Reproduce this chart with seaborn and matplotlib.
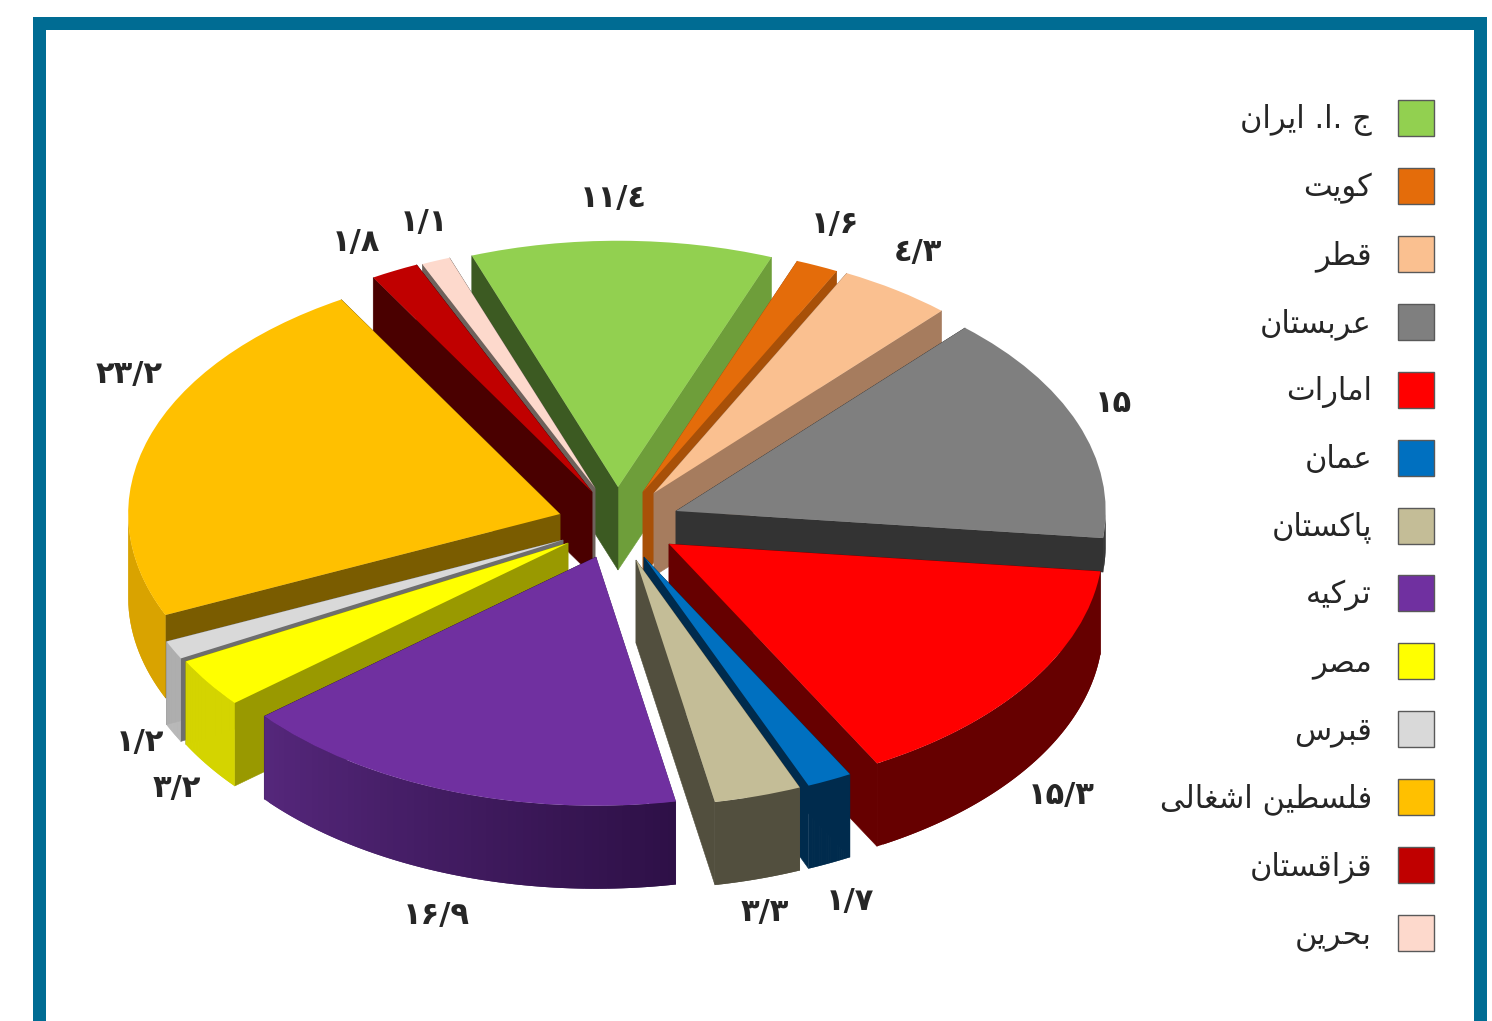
import numpy as np
import seaborn as sns
import matplotlib
matplotlib.use("Agg")
import matplotlib.pyplot as plt
from matplotlib.colors import to_rgb
from matplotlib.patches import Patch, Polygon, Rectangle

# Data, clockwise from the green slice
countries = ["ج .ا. ایران", "کویت", "قطر", "عربستان", "امارات", "عمان", "پاکستان",
             "ترکیه", "مصر", "قبرس", "فلسطین اشغالی", "قزاقستان", "بحرین"]
shares = [11.4, 1.6, 4.3, 15, 15.3, 1.7, 3.3, 16.9, 3.2, 1.2, 23.2, 1.8, 1.1]

top_colors = ["#92D050", "#E46C0A", "#FAC090", "#7F7F7F", "#FF0000", "#0070C0", "#C4BD97",
              "#7030A0", "#FFFF00", "#D9D9D9", "#FFC000", "#C00000", "#FDD9CC"]
face_start = ["#3C5A22", "#A85008", "#A67C5E", "#333333", "#660000", "#002B4D", "#524F3E",
              "#54267A", "#999900", "#6E6E6E", "#7A5C00", "#4A0000", "#6E625C"]
face_end = ["#6E9E3A", "#A85008", "#A67C5E", "#333333", "#660000", "#002B4D", "#524F3E",
            "#2E1047", "#999900", "#6E6E6E", "#7A5C00", "#4A0000", "#6E625C"]
wall_a = ["#6E9E3A", "#A85008", "#A67C5E", "#333333", "#660000", "#002B4D", "#524F3E",
          "#55277B", "#D4D400", "#B4B4B4", "#D9A300", "#4A0000", "#6E625C"]
wall_b = ["#3C5A22", "#A85008", "#A67C5E", "#333333", "#660000", "#002B4D", "#524F3E",
          "#2E1047", "#D4D400", "#B4B4B4", "#D9A300", "#4A0000", "#6E625C"]

# Layout in pixels: the point of every slice after it is pulled out
tips_x = [618, 643, 654, 676, 669, 644, 636, 596, 568, 563, 560, 592, 595]
tips_y = [487, 492, 493, 511, 544, 557, 560, 557, 543, 540, 514, 492, 488]
label_x = [613, 835, 918, 1113, 1061, 850, 765, 436, 177, 140, 129, 356, 424]
label_y = [198, 224, 252, 403, 795, 901, 912, 915, 788, 743, 374, 242, 222]
# far slices come out a little smaller
radius_scale = [0.985, 0.99, 0.985, 0.99, 1.0, 0.99, 0.985, 0.995, 1.0, 1.0, 0.995, 0.995, 0.98]
# the grey slice only needs the strip that shows above the red one
slice_depth = [83, 83, 83, 34, 83, 83, 83, 83, 83, 83, 83, 83, 83]
draw_order = [0, 12, 11, 10, 9, 8, 1, 2, 3, 4, 5, 6, 7]

W, H = 1492, 1021
RX, RY = 434, 250
YS = RX / RY


def py(y):
    return (H - y) * YS


FORMS = {
    "ا": (0xFE8D, 0xFE8E), "ر": (0xFEAD, 0xFEAE), "ز": (0xFEAF, 0xFEB0), "و": (0xFEED, 0xFEEE),
    "ب": (0xFE8F, 0xFE90, 0xFE91, 0xFE92), "پ": (0xFB56, 0xFB57, 0xFB58, 0xFB59),
    "ت": (0xFE95, 0xFE96, 0xFE97, 0xFE98), "ج": (0xFE9D, 0xFE9E, 0xFE9F, 0xFEA0),
    "ح": (0xFEA1, 0xFEA2, 0xFEA3, 0xFEA4), "س": (0xFEB1, 0xFEB2, 0xFEB3, 0xFEB4),
    "ش": (0xFEB5, 0xFEB6, 0xFEB7, 0xFEB8), "ص": (0xFEB9, 0xFEBA, 0xFEBB, 0xFEBC),
    "ط": (0xFEC1, 0xFEC2, 0xFEC3, 0xFEC4), "ع": (0xFEC9, 0xFECA, 0xFECB, 0xFECC),
    "غ": (0xFECD, 0xFECE, 0xFECF, 0xFED0), "ف": (0xFED1, 0xFED2, 0xFED3, 0xFED4),
    "ق": (0xFED5, 0xFED6, 0xFED7, 0xFED8), "ک": (0xFB8E, 0xFB8F, 0xFB90, 0xFB91),
    "ل": (0xFEDD, 0xFEDE, 0xFEDF, 0xFEE0), "م": (0xFEE1, 0xFEE2, 0xFEE3, 0xFEE4),
    "ن": (0xFEE5, 0xFEE6, 0xFEE7, 0xFEE8), "ه": (0xFEE9, 0xFEEA, 0xFEEB, 0xFEEC),
    "ی": (0xFBFC, 0xFBFD, 0xFBFE, 0xFBFF),
}


# matplotlib does no Arabic shaping, so pick the joined forms and reverse
def shape(text):
    out = []
    for i, ch in enumerate(text):
        if ch not in FORMS:
            out.append(ch)
            continue
        prev = text[i - 1] if i > 0 else " "
        nxt = text[i + 1] if i < len(text) - 1 else " "
        joins_prev = prev in FORMS and len(FORMS[prev]) == 4
        joins_next = nxt in FORMS and len(FORMS[ch]) == 4
        if joins_prev and joins_next:
            form = FORMS[ch][3]
        elif joins_prev:
            form = FORMS[ch][1]
        elif joins_next:
            form = FORMS[ch][2]
        else:
            form = FORMS[ch][0]
        out.append(chr(form))
    return "".join(reversed(out))


def persian(v):
    return f"{v:g}".replace(".", "/").translate(str.maketrans("0123456789", "۰۱۲۳٤۵۶۷۸۹"))


sns.set_style("white")
fig = plt.figure(figsize=(W / 100, H / 100), dpi=100, facecolor="white")

# frame, runs off the bottom of the picture
fig.add_artist(Rectangle((33 / W, -0.05), 1454 / W, 1.05 - 17 / H, transform=fig.transFigure,
                         color="#006C93", lw=0, zorder=-2))
fig.add_artist(Rectangle((46 / W, -0.05), 1428 / W, 1.05 - 30 / H, transform=fig.transFigure,
                         color="white", lw=0, zorder=-1))

ax = fig.add_axes([0, 0, 1, 1], facecolor="none")
wedges, _ = ax.pie(shares, colors=sns.color_palette(top_colors), radius=RX, startangle=110,
                   counterclock=False, wedgeprops={"linewidth": 0})
ax.set_aspect("auto")
ax.set_xlim(0, W)
ax.set_ylim(0, H * YS)

for rank, i in enumerate(draw_order):
    z = 10 + rank * 3
    w = wedges[i]
    cx, cy = tips_x[i], py(tips_y[i])
    r = RX * radius_scale[i]
    depth = slice_depth[i] * YS
    w.set_center((cx, cy))
    w.set_radius(r)
    w.set_zorder(z + 2)
    # theta1 is the clockwise end of the slice because the pie runs clockwise
    for th, col in [(w.theta1, face_end[i]), (w.theta2, face_start[i])]:
        ex, ey = cx + r * np.cos(np.radians(th)), cy + r * np.sin(np.radians(th))
        ax.add_patch(Polygon([(cx, cy), (ex, ey), (ex, ey - depth), (cx, cy - depth)],
                             facecolor=col, edgecolor=col, lw=0.4, zorder=z))
    # outer wall, only the part that faces the viewer
    angles = np.radians(np.linspace(w.theta1, w.theta2, 61))
    angles = angles[np.sin(angles) < 0]
    if len(angles) < 2:
        continue
    ca, cb = np.array(to_rgb(wall_a[i])), np.array(to_rgb(wall_b[i]))
    n = len(angles) - 1
    for k in range(n):
        # each strip runs under the next so no seams show
        arc = angles[k:k + 3]
        xs = cx + r * np.cos(arc)
        ys = cy + r * np.sin(arc)
        col = ca + (cb - ca) * (k / max(n - 1, 1))
        pts = list(zip(xs, ys)) + list(zip(xs[::-1], ys[::-1] - depth))
        ax.add_patch(Polygon(pts, facecolor=col, edgecolor="none", lw=0, zorder=z + 1))

for i, v in enumerate(shares):
    ax.text(label_x[i], py(label_y[i]), persian(v), ha="center", va="center", fontsize=22,
            fontweight="bold", color="#262626", zorder=100)

fs = 22
px_fs = fs * 100 / 72
handles = [Patch(facecolor=c, edgecolor="#595959", lw=1) for c in top_colors]
ax.legend(handles, [shape(c) for c in countries], loc="upper right",
          bbox_to_anchor=(1434 / W, 1 - 100 / H), frameon=False, markerfirst=False, fontsize=fs,
          labelcolor="#262626", handlelength=36 / px_fs, handleheight=1.435,
          handletextpad=26 / px_fs, labelspacing=31.9 / px_fs, borderpad=0, borderaxespad=0)

fig.savefig("out.png", dpi=100)
